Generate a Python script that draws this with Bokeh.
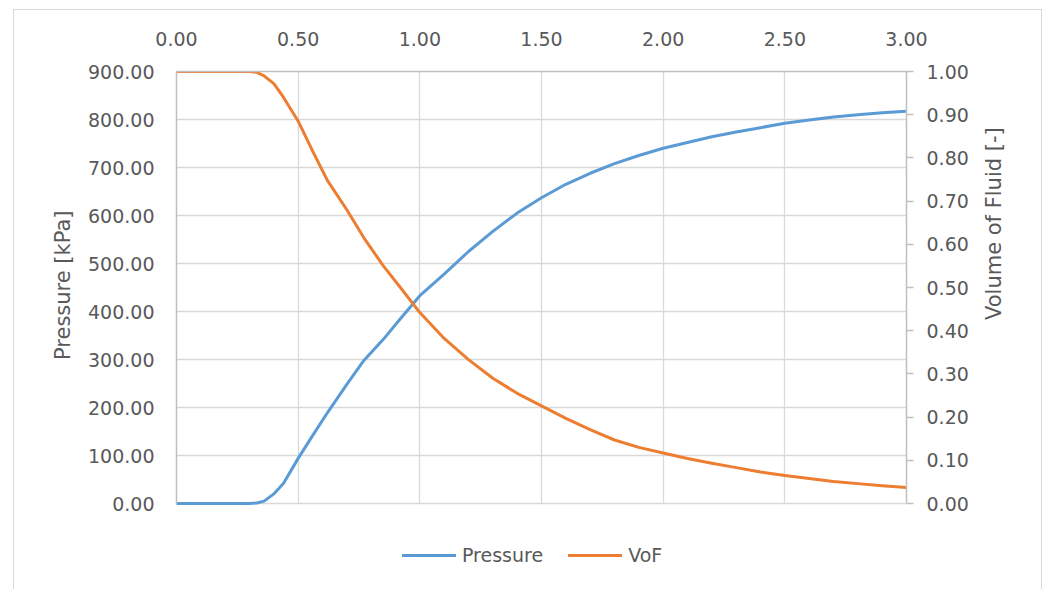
import math
from bokeh.plotting import figure
from bokeh.models import (Range1d, LinearAxis, FixedTicker, NumeralTickFormatter,
                          Legend, LegendItem, Title)
from bokeh.embed import file_html
from bokeh.resources import INLINE

# ---- data ----
time = [0.00, 0.10, 0.20, 0.30, 0.33, 0.36, 0.40, 0.44, 0.50, 0.56, 0.62, 0.70,
        0.77, 0.85, 0.92, 1.00, 1.10, 1.20, 1.30, 1.40, 1.50, 1.60, 1.70, 1.80,
        1.90, 2.00, 2.10, 2.20, 2.30, 2.40, 2.50, 2.60, 2.70, 2.80, 2.90, 3.00]
pressure = [0, 0, 0, 0, 1, 5, 20, 42, 94, 142, 189, 248,
            298, 342, 385, 433, 478, 525, 567, 605, 637, 665, 688, 708,
            725, 740, 752, 764, 774, 783, 792, 799, 805, 810, 814, 817]
vof = [1.0, 1.0, 1.0, 1.0, 0.998, 0.99, 0.972, 0.94, 0.885, 0.815, 0.748, 0.68,
       0.615, 0.55, 0.50, 0.442, 0.382, 0.333, 0.29, 0.255, 0.226, 0.197, 0.171, 0.147,
       0.13, 0.117, 0.104, 0.093, 0.083, 0.073, 0.065, 0.058, 0.051, 0.046, 0.041, 0.037]
x_ticks = [0.0, 0.5, 1.0, 1.5, 2.0, 2.5, 3.0]
p_ticks = [0, 100, 200, 300, 400, 500, 600, 700, 800, 900]
v_ticks = [0.0, 0.1, 0.2, 0.3, 0.4, 0.5, 0.6, 0.7, 0.8, 0.9, 1.0]
series_names = ["Pressure", "VoF"]
left_title = "Pressure [kPa]"
right_title = "Volume of Fluid [-]"

FONT = "DejaVu Sans"
TXT = "#595959"
AXIS = "#bfbfbf"
GRID = "#d9d9d9"

# layout: plot area of 432 px for the data span; frame extends below for the legend
W, H = 1029, 580
TOP, LEFT, RIGHT, BOTTOM = 61, 162, 137, 22
DATA_PX = 432
frame_px = H - TOP - BOTTOM
p_max, v_max = 900, 1.0
p_min = p_max - p_max * frame_px / DATA_PX
v_min = v_max - v_max * frame_px / DATA_PX

p = figure(width=W, height=H, x_range=Range1d(0, 3), y_range=Range1d(p_min, p_max),
           x_axis_location="above", output_backend="svg", toolbar_location=None,
           min_border_left=LEFT, min_border_right=RIGHT, min_border_top=TOP,
           min_border_bottom=BOTTOM)
p.styles = {"margin-left": "13px", "margin-top": "9px",
            "border-left": "1px solid #d9d9d9", "border-right": "1px solid #d9d9d9",
            "border-top": "1px solid #d9d9d9"}
p.outline_line_color = None
p.extra_y_ranges = {"vof": Range1d(v_min, v_max)}

# top x axis
xa = p.xaxis[0]
xa.ticker = FixedTicker(ticks=x_ticks)
xa.formatter = NumeralTickFormatter(format="0.00")
# left y axis
ya = p.yaxis[0]
ya.ticker = FixedTicker(ticks=p_ticks)
ya.formatter = NumeralTickFormatter(format="0.00")
ya.bounds = (0, p_max)

# right y axis
ra = LinearAxis(y_range_name="vof", ticker=FixedTicker(ticks=v_ticks),
                formatter=NumeralTickFormatter(format="0.00"),
                axis_label=right_title, bounds=(0, v_max))
p.add_layout(ra, "right")

for ax in (xa, ya, ra):
    ax.axis_line_color = AXIS
    ax.axis_line_width = 1.5
    ax.minor_tick_line_color = None
    ax.major_label_text_font = FONT
    ax.major_label_text_font_size = "19px"
    ax.major_label_text_color = TXT
    ax.axis_label_text_font = FONT
    ax.axis_label_text_font_size = "21px"
    ax.axis_label_text_font_style = "normal"
    ax.axis_label_text_color = TXT

for ax in (xa, ya):
    ax.major_tick_line_color = None
    ax.major_tick_out = 0
    ax.major_tick_in = 0
xa.major_label_standoff = 26
ya.major_label_standoff = 22

ra.major_tick_line_color = AXIS
ra.major_tick_line_width = 1.5
ra.major_tick_out = 7
ra.major_tick_in = 0
ra.major_label_standoff = 13
ra.axis_label_standoff = 22
ra.axis_label_orientation = math.pi / 2
ra.axis_label_text_align = "center"

# left axis title, placed along the data part of the axis
lt = Title(text=left_title, align="right", offset=139, standoff=22,
           text_font=FONT, text_font_size="21px", text_font_style="normal",
           text_color=TXT)
p.add_layout(lt, "left")

p.xgrid.ticker = FixedTicker(ticks=x_ticks)
p.ygrid.ticker = FixedTicker(ticks=p_ticks)
p.xgrid.cross_bounds = (0, p_max)
p.xgrid.grid_line_color = GRID
p.ygrid.grid_line_color = GRID
p.xgrid.grid_line_width = 1.3
p.ygrid.grid_line_width = 1.3

r1 = p.line(time, pressure, line_color="#5b9bd5", line_width=3,
            line_join="round", line_cap="round")
r2 = p.line(time, vof, line_color="#ed7d31", line_width=3,
            line_join="round", line_cap="round", y_range_name="vof")

legend = Legend(items=[LegendItem(label=series_names[0], renderers=[r1]),
                       LegendItem(label=series_names[1], renderers=[r2])],
                orientation="horizontal", location=(226, 2),
                border_line_color=None, background_fill_alpha=0,
                padding=0, margin=0, spacing=25, glyph_width=54, glyph_height=20,
                label_standoff=6, label_text_font=FONT, label_text_font_size="19px",
                label_text_color=TXT)
p.add_layout(legend)

open("out.html", "w").write(file_html(p, INLINE))
